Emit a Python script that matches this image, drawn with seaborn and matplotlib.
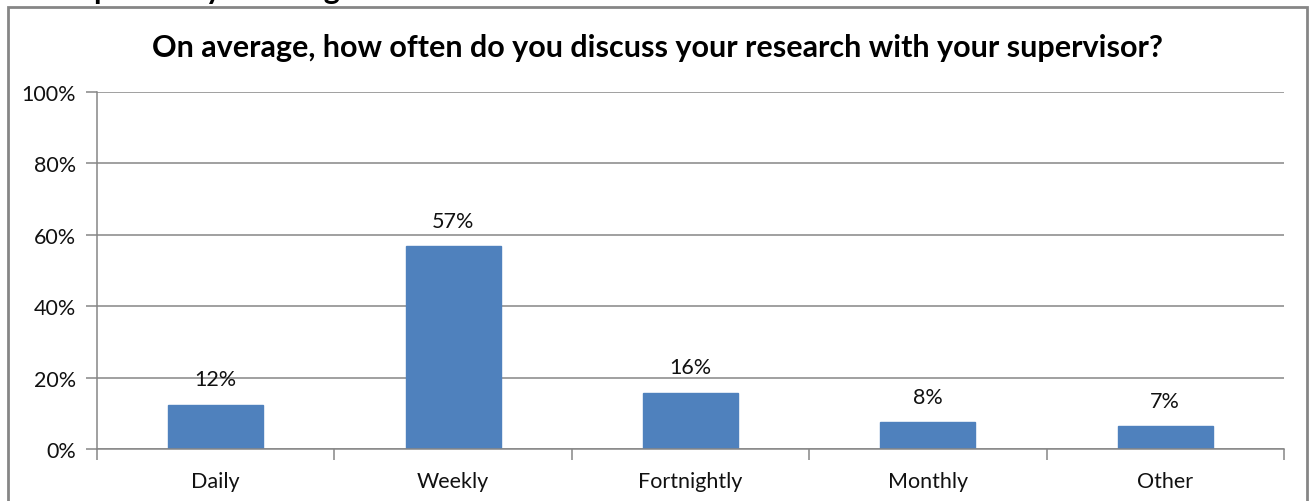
import numpy as np
import pandas as pd
import seaborn as sns
import matplotlib.pyplot as plt
from matplotlib.patches import Rectangle
from matplotlib.ticker import FuncFormatter, MultipleLocator

categories = ["Daily", "Weekly", "Fortnightly", "Monthly", "Other"]
shares = [12.4, 56.9, 15.8, 7.6, 6.5]
share_labels = ["12%", "57%", "16%", "8%", "7%"]
title = "On average, how often do you discuss your research with your supervisor?"
heading = "Supervisory meetings"

df = pd.DataFrame({"freq": categories, "share": shares})

sns.set_theme(style="white")
plt.rcParams["font.family"] = ["Lato", "DejaVu Sans"]

fig = plt.figure(figsize=(13.16, 5.02), dpi=100)
W, H = 1316, 502
# plot area in pixels: x 97..1284, y 93..450
ax = fig.add_axes([97 / W, 1 - 450 / H, (1284 - 97) / W, (450 - 93) / H])

sns.barplot(data=df, x="freq", y="share", color="#4F81BD", width=0.4,
            saturation=1, ax=ax, edgecolor="#4F81BD")

ax.set_ylim(0, 100)
ax.set_xlim(-0.5, len(categories) - 0.5)
ax.yaxis.set_major_locator(MultipleLocator(20))
ax.yaxis.set_major_formatter(FuncFormatter(lambda v, _: f"{v:.0f}%"))
ax.grid(axis="y", color="#868686", linewidth=1.1)
ax.set_axisbelow(True)
for side in ["top", "right"]:
    ax.spines[side].set_visible(False)
ax.spines["left"].set_color("#868686")
ax.spines["bottom"].set_color("#868686")
ax.spines["left"].set_linewidth(1.1)
ax.spines["bottom"].set_linewidth(1.1)

# category boundary ticks on x axis
ax.set_xticks(np.arange(-0.5, len(categories), 1), minor=False)
ax.set_xticklabels([])
ax.set_xticks(np.arange(len(categories)), minor=True)
ax.set_xticklabels(categories, minor=True)
ax.tick_params(axis="x", which="major", length=8, width=1.1, color="#868686", direction="out", bottom=True)
ax.tick_params(axis="x", which="minor", length=0, labelsize=15.5, pad=16, labelcolor="#111111")
ax.tick_params(axis="y", length=8, width=1.1, color="#868686", direction="out", left=True,
               labelsize=15.5, pad=7, labelcolor="#111111")
ax.set_xlabel("")
ax.set_ylabel("")

for patch, lab in zip(ax.patches, share_labels):
    ax.annotate(lab, (patch.get_x() + patch.get_width() / 2, patch.get_height()),
                xytext=(0, 11), textcoords="offset points", ha="center", va="bottom",
                fontsize=15.5, color="#111111")

fig.text(0.5, 1 - 48 / H, title, ha="center", va="center", fontsize=22,
         fontweight="bold", color="black")

# chart border box
fig.patches.append(Rectangle((8 / W, -0.05), (1307 - 8) / W, 1 - 8 / H + 0.05,
                             transform=fig.transFigure, fill=False,
                             edgecolor="#868686", linewidth=2))

# heading from the surrounding page, only its descenders show below the top edge
fig.text(60 / W, 1 + 1 / H, heading, ha="left", va="baseline", fontsize=22,
         fontweight="bold", color="black")

fig.savefig("out.png", dpi=100)
